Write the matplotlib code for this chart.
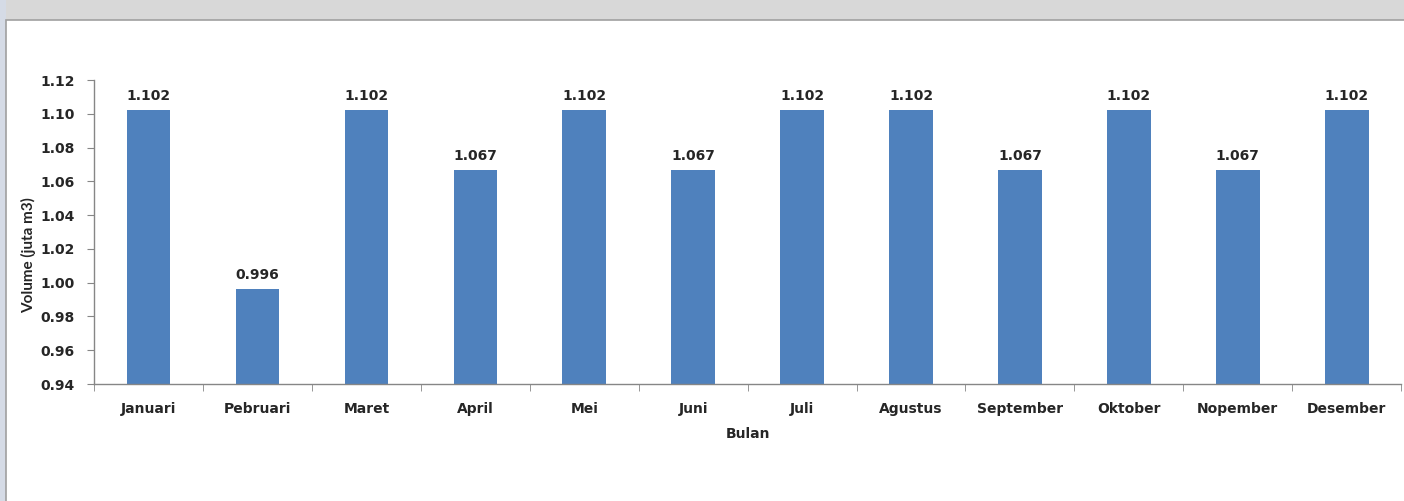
import numpy as np
import matplotlib.pyplot as plt
from matplotlib.patches import Rectangle

plt.rcParams.update({"font.family": ["DejaVu Sans"], "font.weight": "bold"})

# monthly volume (juta m3)
bulan = ["Januari", "Pebruari", "Maret", "April", "Mei", "Juni", "Juli",
         "Agustus", "September", "Oktober", "Nopember", "Desember"]
volume = [1.102, 0.996, 1.102, 1.067, 1.102, 1.067, 1.102,
          1.102, 1.067, 1.102, 1.067, 1.102]
yticks = [0.94, 0.96, 0.98, 1.00, 1.02, 1.04, 1.06, 1.08, 1.10, 1.12]

bar_colour = "#4f81bd"
axis_colour = "#868686"
text_colour = "#262626"

fig = plt.figure(figsize=(14.04, 5.01), dpi=100)
fig.patch.set_facecolor("white")

# page background strip at the top and the frame round the chart
fig.patches.append(Rectangle((0, 0.96), 1, 0.04, transform=fig.transFigure,
                             facecolor="#d8d8d8", edgecolor="none", zorder=-3))
fig.patches.append(Rectangle((0, 0), 0.004, 1, transform=fig.transFigure,
                             facecolor="#d5dbe6", edgecolor="none", zorder=-3))
fig.patches.append(Rectangle((0.004, -0.01), 1.0, 0.97, transform=fig.transFigure,
                             facecolor="white", edgecolor="#a0a0a0", lw=1.2, zorder=-2))

ax = fig.add_axes([0.067, 0.2335, 0.931, 0.6068])
ax.set_facecolor("none")
ax.set_zorder(1)

x = np.arange(len(bulan))
bars = ax.bar(x, volume, width=0.40, color=bar_colour, zorder=2)

for xi, v in zip(x, volume):
    ax.annotate("%.3f" % v, (xi, v), xytext=(0, 5), textcoords="offset points",
                ha="center", va="bottom", fontsize=10, fontweight="bold", color=text_colour)

ax.set_xlim(-0.5, len(bulan) - 0.5)
ax.set_ylim(0.94, 1.12)
ax.set_yticks(yticks)
ax.set_yticklabels(["%.2f" % t for t in yticks])

ax.set_xticks(x)
ax.set_xticklabels(bulan)
ax.set_xticks(np.arange(-0.5, len(bulan)), minor=True)
ax.tick_params(axis="x", which="major", length=0, pad=13, labelsize=10, labelcolor=text_colour)
ax.tick_params(axis="x", which="minor", length=5, direction="out", color=axis_colour)
ax.tick_params(axis="y", length=5, direction="out", color=axis_colour, labelsize=10,
               labelcolor=text_colour, pad=9)

for s in ["top", "right"]:
    ax.spines[s].set_visible(False)
for s in ["left", "bottom"]:
    ax.spines[s].set_color(axis_colour)
    ax.spines[s].set_linewidth(1)

ax.set_xlabel("Bulan", fontsize=10, fontweight="bold", labelpad=8, color=text_colour)
fig.text(0.020, 0.49, "Volume (juta m3)", rotation=90, ha="center", va="center",
         fontsize=11, fontweight="bold", color=text_colour, family="Lato")

fig.savefig("out.png", dpi=100)
